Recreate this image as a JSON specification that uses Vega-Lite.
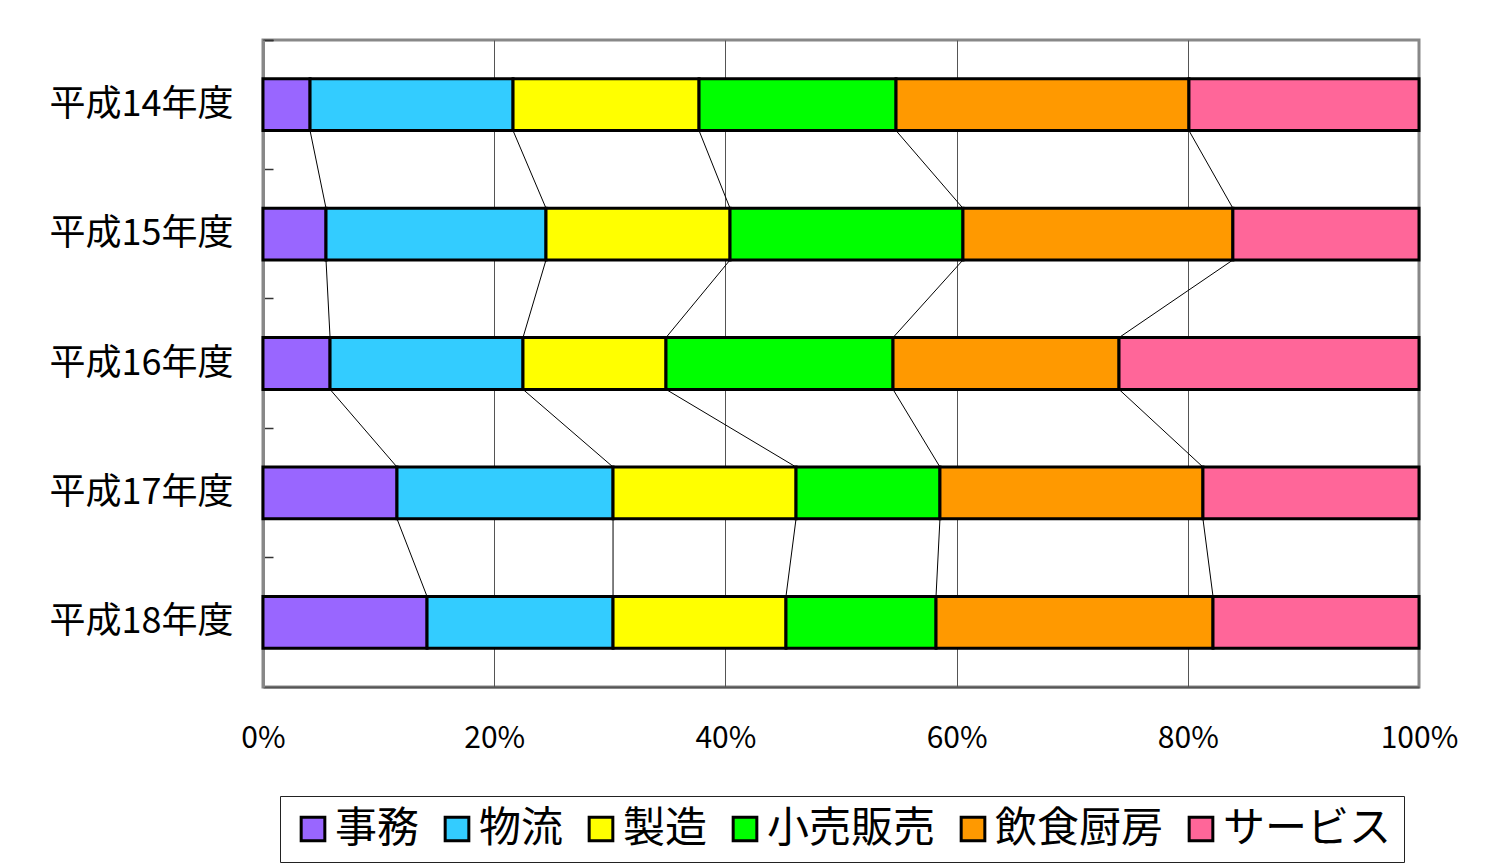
{
  "$schema": "https://vega.github.io/schema/vega-lite/v6.json",
  "autosize": {"type": "none"},
  "width": 1156,
  "height": 647,
  "padding": {"left": 263, "top": 40, "right": 92, "bottom": 181},
  "background": "white",
  "config": {
    "view": {"stroke": "#888888", "strokeWidth": 3},
    "font": "Noto Sans CJK JP"
  },
  "data": {
    "values": [
      {"year": "平成14年度", "cat": "事務", "k": 1, "value": 4.07},
      {"year": "平成14年度", "cat": "物流", "k": 2, "value": 17.56},
      {"year": "平成14年度", "cat": "製造", "k": 3, "value": 16.09},
      {"year": "平成14年度", "cat": "小売販売", "k": 4, "value": 17.04},
      {"year": "平成14年度", "cat": "飲食厨房", "k": 5, "value": 25.34},
      {"year": "平成14年度", "cat": "サービス", "k": 6, "value": 19.9},
      {"year": "平成15年度", "cat": "事務", "k": 1, "value": 5.45},
      {"year": "平成15年度", "cat": "物流", "k": 2, "value": 19.03},
      {"year": "平成15年度", "cat": "製造", "k": 3, "value": 15.92},
      {"year": "平成15年度", "cat": "小売販売", "k": 4, "value": 20.15},
      {"year": "平成15年度", "cat": "飲食厨房", "k": 5, "value": 23.35},
      {"year": "平成15年度", "cat": "サービス", "k": 6, "value": 16.1},
      {"year": "平成16年度", "cat": "事務", "k": 1, "value": 5.8},
      {"year": "平成16年度", "cat": "物流", "k": 2, "value": 16.69},
      {"year": "平成16年度", "cat": "製造", "k": 3, "value": 12.37},
      {"year": "平成16年度", "cat": "小売販売", "k": 4, "value": 19.64},
      {"year": "平成16年度", "cat": "飲食厨房", "k": 5, "value": 19.55},
      {"year": "平成16年度", "cat": "サービス", "k": 6, "value": 25.95},
      {"year": "平成17年度", "cat": "事務", "k": 1, "value": 11.59},
      {"year": "平成17年度", "cat": "物流", "k": 2, "value": 18.69},
      {"year": "平成17年度", "cat": "製造", "k": 3, "value": 15.83},
      {"year": "平成17年度", "cat": "小売販売", "k": 4, "value": 12.45},
      {"year": "平成17年度", "cat": "飲食厨房", "k": 5, "value": 22.75},
      {"year": "平成17年度", "cat": "サービス", "k": 6, "value": 18.69},
      {"year": "平成18年度", "cat": "事務", "k": 1, "value": 14.19},
      {"year": "平成18年度", "cat": "物流", "k": 2, "value": 16.09},
      {"year": "平成18年度", "cat": "製造", "k": 3, "value": 14.96},
      {"year": "平成18年度", "cat": "小売販売", "k": 4, "value": 12.98},
      {"year": "平成18年度", "cat": "飲食厨房", "k": 5, "value": 23.96},
      {"year": "平成18年度", "cat": "サービス", "k": 6, "value": 17.82}
    ]
  },
  "encoding": {
    "y": {
      "field": "year",
      "type": "nominal",
      "title": null,
      "scale": {"paddingInner": 0, "paddingOuter": 0},
      "axis": {
        "domainColor": "#888888",
        "domainWidth": 3,
        "ticks": true,
        "tickSize": -10,
        "tickColor": "#333333",
        "tickWidth": 1.5,
        "bandPosition": 0,
        "tickExtra": true,
        "labelFont": "Noto Sans CJK JP",
        "labelFontSize": 36,
        "labelColor": "black",
        "labelLimit": 400,
        "labelPadding": 40,
        "grid": false
      }
    }
  },
  "layer": [
    {
      "mark": {"type": "bar", "height": {"band": 0.4}, "stroke": "black", "strokeWidth": 3},
      "encoding": {
        "x": {
          "field": "value",
          "type": "quantitative",
          "stack": "normalize",
          "title": null,
          "scale": {"domain": [0, 1], "nice": false},
          "axis": {
            "values": [0, 0.2, 0.4, 0.6, 0.8, 1],
            "format": ".0%",
            "grid": true,
            "gridColor": {"condition": {"test": "datum.value <= 0 || datum.value >= 1", "value": "#888888"}, "value": "#555555"},
            "gridWidth": 1,
            "ticks": false,
            "domainColor": "#555555",
            "domainWidth": 2,
            "labelFont": "Noto Sans CJK JP",
            "labelFontSize": 30,
            "labelColor": "black",
            "labelPadding": 36,
            "labelFlush": false
          }
        },
        "color": {
          "field": "cat",
          "type": "nominal",
          "scale": {
            "domain": ["事務", "物流", "製造", "小売販売", "飲食厨房", "サービス"],
            "range": ["#9966FF", "#33CCFF", "#FFFF00", "#00FF00", "#FF9900", "#FF6699"]
          },
          "legend": {
            "title": null,
            "orient": "none",
            "legendX": 17,
            "legendY": 756,
            "direction": "horizontal",
            "columns": 6,
            "symbolType": "square",
            "symbolSize": 560,
            "symbolStrokeWidth": 3,
            "symbolStrokeColor": "black",
            "symbolOpacity": 1,
            "labelFont": "Noto Sans CJK JP",
            "labelFontSize": 42,
            "labelColor": "black",
            "labelLimit": 400,
            "labelOffset": 1,
            "columnPadding": 16,
            "padding": 12,
            "strokeColor": "#222222",
            "fillColor": "white"
          }
        },
        "order": {"field": "k", "type": "quantitative"}
      }
    },
    {
      "transform": [
        {"stack": "value", "groupby": ["year"], "sort": [{"field": "k", "order": "ascending"}], "offset": "normalize", "as": ["v0", "v1"]},
        {"window": [{"op": "lead", "field": "v1", "as": "v1next"}, {"op": "lead", "field": "year", "as": "yearNext"}], "groupby": ["cat"], "sort": [{"field": "year", "order": "ascending"}]},
        {"filter": "datum.yearNext != null && datum.k < 6"}
      ],
      "mark": {"type": "rule", "color": "black", "strokeWidth": 1},
      "encoding": {
        "x": {"field": "v1", "type": "quantitative", "title": null},
        "x2": {"field": "v1next"},
        "y": {"field": "year", "type": "nominal", "bandPosition": 0.7},
        "y2": {"field": "yearNext", "bandPosition": 0.3}
      }
    }
  ]
}
